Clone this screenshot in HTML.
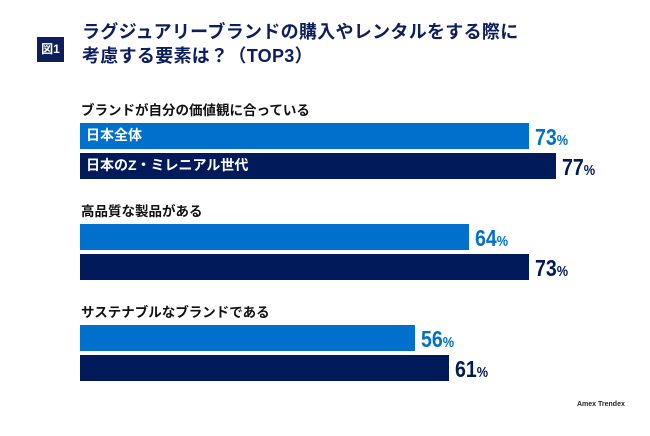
<!DOCTYPE html>
<html><head><meta charset="utf-8"><style>
body{margin:0;width:650px;height:436px;background:#fff;position:relative;overflow:hidden;font-family:"Liberation Sans","Noto Sans CJK JP",sans-serif;font-weight:bold}
.abs{position:absolute}
.t{left:82px;font-size:18px;color:#0d1e5c;line-height:24px;white-space:nowrap;letter-spacing:0.3px}
.g{left:81px;font-size:13.5px;color:#111;white-space:nowrap}
.bar{position:absolute;left:80px}
.bl{position:absolute;left:6px;color:#fff;font-size:14px;line-height:25px;white-space:nowrap}
.val{position:absolute;font-size:23px;line-height:26px;font-family:"Liberation Sans Narrow","Liberation Sans",sans-serif;white-space:nowrap;transform:scaleX(0.85);transform-origin:left center}
.val span{font-size:15px;letter-spacing:0}
</style></head><body>
<div class="abs" style="left:37px;top:37px;width:27px;height:25px;background:#0d1e5c;color:#fff;font-size:12px;line-height:25px;text-align:center">図1</div>
<div class="abs t" style="top:20px">ラグジュアリーブランドの購入やレンタルをする際に<br>考慮する要素は？（TOP3）</div>
<div id="chart"></div>
<div class="abs" style="left:577px;top:401px;font-size:7px;color:#222">Amex Trendex</div>
<script>
const categories=["ブランドが自分の価値観に合っている","高品質な製品がある","サステナブルなブランドである"];
const seriesNames=["日本全体","日本のZ・ミレニアル世代"];
const japanAll=[73,64,56];
const genZ=[77,73,61];
const colors=["#0070cc","#001a5a"];
const x=v=>40+6.7*v;
const groupTop=i=>123+101*i;
const chart=document.getElementById('chart');
categories.forEach((c,i)=>{
  const g=document.createElement('div');
  g.className='abs g';
  g.style.top=(groupTop(i)-24)+'px';
  g.textContent=c;
  
  
  chart.appendChild(g);
  [japanAll[i],genZ[i]].forEach((v,s)=>{
    const top=groupTop(i)+s*30;
    const b=document.createElement('div');
    b.className='bar';
    b.style.top=top+'px';b.style.height='26px';
    b.style.width=(x(v)-80)+'px';
    b.style.background=colors[s];
    
    
    if(i===0){const l=document.createElement('div');l.className='bl';l.textContent=seriesNames[s];
      
      
      b.appendChild(l);}
    chart.appendChild(b);
    const t=document.createElement('div');
    t.className='val';
    t.style.left=(x(v)+6)+'px';t.style.top=(top+1)+'px';
    t.style.color=colors[s];
    t.innerHTML=v+'<span>%</span>';
    
    
    chart.appendChild(t);
  });
});
</script>
</body></html>
